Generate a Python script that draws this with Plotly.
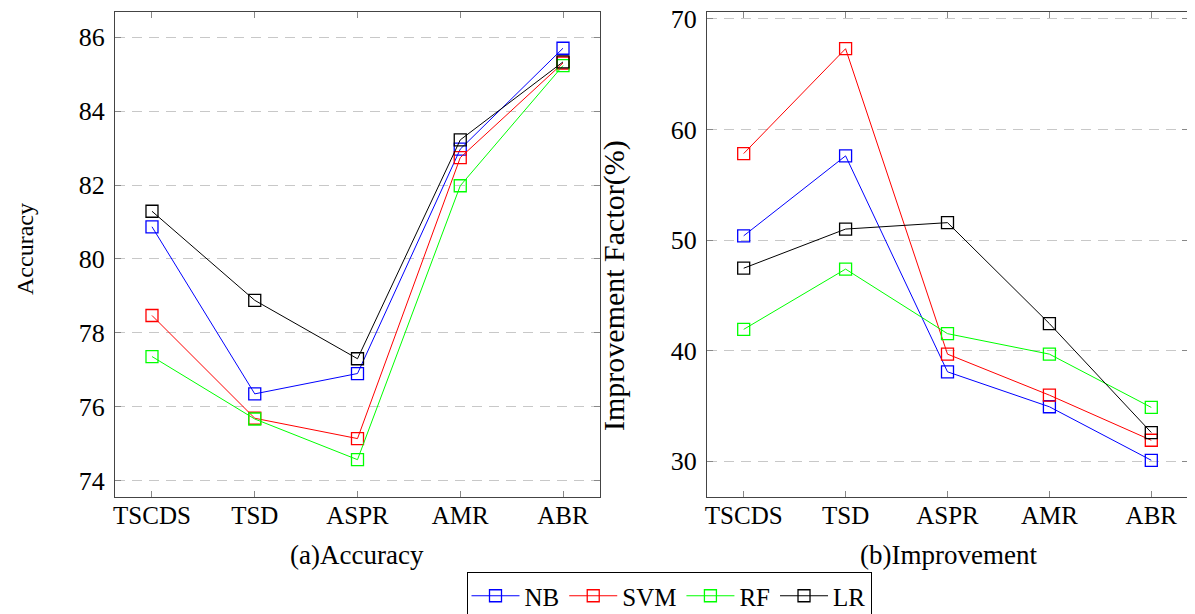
import plotly.graph_objects as go
from plotly.subplots import make_subplots

categories = ["TSCDS", "TSD", "ASPR", "AMR", "ABR"]
series_names = ["NB", "SVM", "RF", "LR"]
colors = ["#0000ff", "#ff0000", "#00ff00", "#000000"]

acc_nb = [80.87, 76.35, 76.90, 82.97, 85.70]
acc_svm = [78.47, 75.69, 75.14, 82.74, 85.30]
acc_rf = [77.36, 75.67, 74.57, 81.98, 85.23]
acc_lr = [81.29, 78.88, 77.30, 83.22, 85.33]

imp_nb = [50.39, 57.62, 38.09, 34.93, 30.09]
imp_svm = [57.83, 67.31, 39.69, 35.98, 31.90]
imp_rf = [41.93, 47.38, 41.54, 39.69, 34.87]
imp_lr = [47.46, 51.00, 51.58, 42.45, 32.60]

acc_ticks = [74, 76, 78, 80, 82, 84, 86]
imp_ticks = [30, 40, 50, 60, 70]

acc = [acc_nb, acc_svm, acc_rf, acc_lr]
imp = [imp_nb, imp_svm, imp_rf, imp_lr]

FONT = "Liberation Serif, Times New Roman, serif"
OFF = 8  # page body margin
W, H = 1195 - OFF, 614 - OFF
ML, MR, MT, MB = 115 - OFF, 7, 12 - OFF, 117
PW = W - ML - MR
PH = H - MT - MB

def px2x(p):
    return (p - OFF - ML) / PW

def py2y(p):
    return (H - MB - (p - OFF)) / PH

fig = make_subplots(rows=1, cols=2)
xs = list(range(len(categories)))
for i, name in enumerate(series_names):
    fig.add_trace(go.Scatter(x=xs, y=acc[i], mode="lines+markers", name=name,
                             line=dict(color=colors[i], width=1),
                             marker=dict(symbol="square-open", size=12, color=colors[i], line=dict(width=1.3)),
                             legendgroup=name), row=1, col=1)
for i, name in enumerate(series_names):
    fig.add_trace(go.Scatter(x=xs, y=imp[i], mode="lines+markers", name=name,
                             line=dict(color=colors[i], width=1),
                             marker=dict(symbol="square-open", size=12, color=colors[i], line=dict(width=1.3)),
                             legendgroup=name, showlegend=False), row=1, col=2)

axis_common = dict(showline=True, linecolor="#444", linewidth=1.3, mirror="ticks",
                   ticks="inside", tickcolor="#888", ticklen=6, zeroline=False, automargin=False)

fig.update_xaxes(**axis_common, range=[-0.36, 4.36], tickvals=xs, ticktext=categories,
                 showgrid=False, tickfont=dict(family=FONT, size=25, color="black"),
                 ticklabelstandoff=-4)
fig.update_yaxes(**axis_common, showgrid=True, gridcolor="#c8c8c8", griddash="10px,7px", gridwidth=1,
                 tickfont=dict(family=FONT, size=26, color="black"), ticklabelstandoff=4,
                 ticklabeloverflow="allow")
fig.update_xaxes(domain=[0, px2x(600)], row=1, col=1)
fig.update_xaxes(domain=[px2x(707), 1.0], row=1, col=2)
fig.update_yaxes(range=[73.56, 86.68], tickvals=acc_ticks, row=1, col=1)
fig.update_yaxes(range=[26.77, 70.63], tickvals=imp_ticks, row=1, col=2)

annotations = [
    dict(text="Accuracy", x=px2x(25), y=py2y(249), xref="paper", yref="paper", textangle=-90,
         showarrow=False, font=dict(family=FONT, size=24, color="black"), xanchor="center", yanchor="middle"),
    dict(text="Improvement Factor(%)", x=px2x(614), y=py2y(286), xref="paper", yref="paper", textangle=-90,
         showarrow=False, font=dict(family=FONT, size=30, color="black"), xanchor="center", yanchor="middle"),
    dict(text="(a)Accuracy", x=px2x(357), y=py2y(555), xref="paper", yref="paper",
         showarrow=False, font=dict(family=FONT, size=27, color="black"), xanchor="center", yanchor="middle"),
    dict(text="(b)Improvement", x=px2x(948), y=py2y(555), xref="paper", yref="paper",
         showarrow=False, font=dict(family=FONT, size=27, color="black"), xanchor="center", yanchor="middle"),
]

fig.update_layout(
    width=W, height=H,
    margin=dict(l=ML, r=MR, t=MT, b=MB, autoexpand=False),
    plot_bgcolor="white", paper_bgcolor="white",
    annotations=annotations,
    showlegend=True,
    legend=dict(orientation="h", x=px2x(669), xanchor="center", y=py2y(572), yanchor="top",
                bordercolor="black", borderwidth=1, bgcolor="white",
                font=dict(family=FONT, size=25, color="black"),
                itemwidth=48, tracegroupgap=0),
)

fig.write_html("out.html")
